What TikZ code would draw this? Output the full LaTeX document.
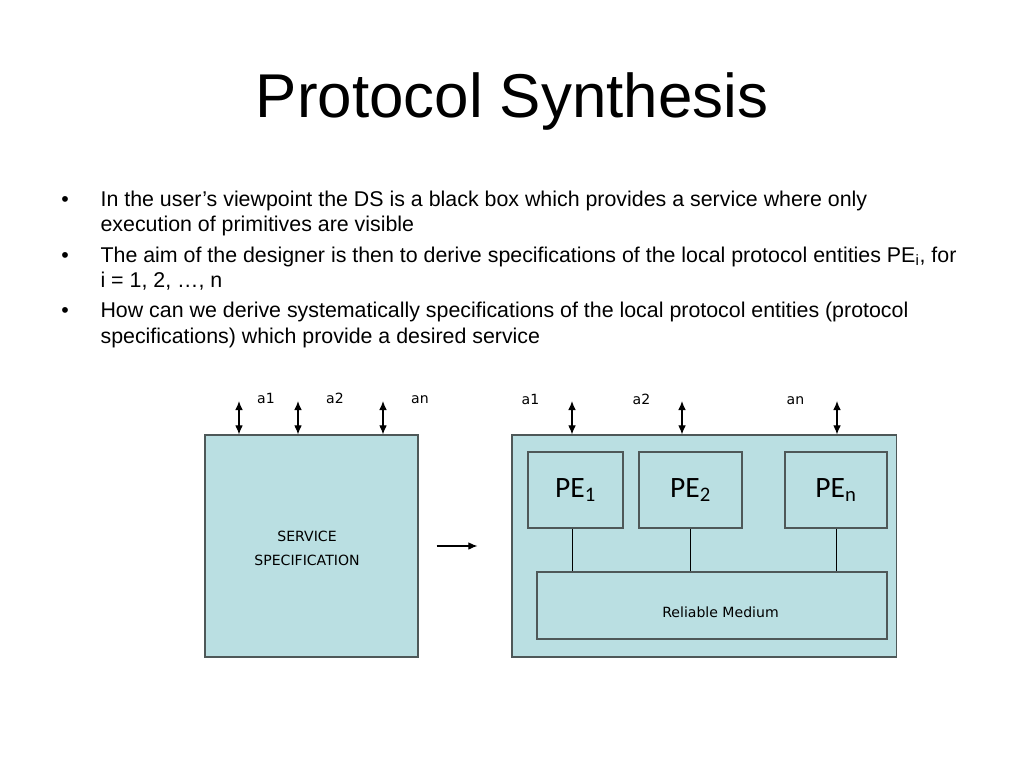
\documentclass[tikz,border=0pt]{standalone}
\usepackage{fontspec}
\setmainfont{Liberation Sans}
\newfontfamily\boxfont{DejaVu Sans}
\newfontfamily\pefont{Carlito}
\usetikzlibrary{arrows, arrows.meta, calc}

\definecolor{boxfill}{RGB}{186,223,226}
\definecolor{boxline}{RGB}{78,88,88}

\begin{document}
\begin{tikzpicture}[
            x = 0.025cm, y = -0.025cm, % one unit = one pixel
            > = {Latex[length=6.5pt, width=5.5pt]}, % arrow head style
            auto,
            line width = 0.8pt % line style
        ]

        \tikzstyle{box}=[
            draw = boxline,
            fill = boxfill,
            line width = 0.8pt,
            inner sep = 0pt
        ]
        \tikzstyle{bodytext}=[anchor=base west, inner sep=0pt, font=\fontsize{15.2}{18}\selectfont]
        \tikzstyle{dot}=[anchor=base, inner sep=0pt, font=\fontsize{15.2}{18}\selectfont]
        \tikzstyle{small}=[inner sep=0pt, font=\boxfont\fontsize{10}{12}\selectfont]

        \useasboundingbox (0,0) rectangle (1024,768);

        % title
        \node[anchor=base, inner sep=0pt, font=\fontsize{44}{50}\selectfont] (head) at (512,118) {Protocol Synthesis};

        % bullets
        \node[dot] (d1) at (65,206) {\textbullet};
        \node[bodytext] (l1) at (100,206) {In the user’s viewpoint the DS is a black box which provides a service where only};
        \node[bodytext] (l2) at (100,231) {execution of primitives are visible};
        \node[dot] (d2) at (65,262) {\textbullet};
        \node[bodytext] (l3) at (100,262) {The aim of the designer is then to derive specifications of the local protocol entities PE\textsubscript{i}, for};
        \node[bodytext] (l4) at (100,287) {i = 1, 2, …, n};
        \node[dot] (d3) at (65,317) {\textbullet};
        \node[bodytext] (l5) at (100,317) {How can we derive systematically specifications of the local protocol entities (protocol};
        \node[bodytext] (l6) at (100,343) {specifications) which provide a desired service};

        % service side
        \node[box, minimum width=5.325cm, minimum height=5.55cm] (spec) at (311.5,546) {};
        \node[small, align=center] (spectext) at (307,548) {SERVICE\\[5pt]SPECIFICATION};

        \coordinate (s1) at (239,401);
        \coordinate (s2) at (298,401);
        \coordinate (s3) at (383,401);
        \draw[<->] (s1) -- (s1 |- spec.north);
        \draw[<->] (s2) -- (s2 |- spec.north);
        \draw[<->] (s3) -- (s3 |- spec.north);
        \node[small, anchor=base] (sa1) at (266,403) {a1};
        \node[small, anchor=base] (sa2) at (335,403) {a2};
        \node[small, anchor=base] (san) at (420,403) {an};

        % protocol side
        \node[box, minimum width=9.6cm, minimum height=5.55cm] (sys) at (704,546) {};
        \node[box, minimum width=2.375cm, minimum height=1.9cm, font=\pefont\fontsize{21}{24}\selectfont] (pe1) at (575.5,490) {PE\textsubscript{1}};
        \node[box, minimum width=2.575cm, minimum height=1.9cm, font=\pefont\fontsize{21}{24}\selectfont] (pe2) at (690.5,490) {PE\textsubscript{2}};
        \node[box, minimum width=2.55cm, minimum height=1.9cm, font=\pefont\fontsize{21}{24}\selectfont] (pen) at (836,490) {PE\textsubscript{n}};
        \node[box, minimum width=8.75cm, minimum height=1.675cm] (medium) at (712,605.5) {};
        \node[small] (medtext) at (720.5,612) {Reliable Medium};

        \coordinate (r1) at (572,401);
        \coordinate (r2) at (682,401);
        \coordinate (r3) at (837,401);
        \draw[<->] (r1) -- (r1 |- sys.north);
        \draw[<->] (r2) -- (r2 |- sys.north);
        \draw[<->] (r3) -- (r3 |- sys.north);
        \node[small, anchor=base] (ra1) at (530.5,404) {a1};
        \node[small, anchor=base] (ra2) at (641.5,404) {a2};
        \node[small, anchor=base] (ran) at (795.5,404) {an};

        \draw[line width=0.7pt] (pe1.south -| r1) -- (r1 |- medium.north);
        \draw[line width=0.7pt] (pe2.south) -- (pe2.south |- medium.north);
        \draw[line width=0.7pt] (pen.south) -- (pen.south |- medium.north);

        % refinement arrow
        \draw[->] ($(spec.east)+(18,0)$) -- ($(sys.west)+(-34,0)$);
    \end{tikzpicture}
\end{document}
